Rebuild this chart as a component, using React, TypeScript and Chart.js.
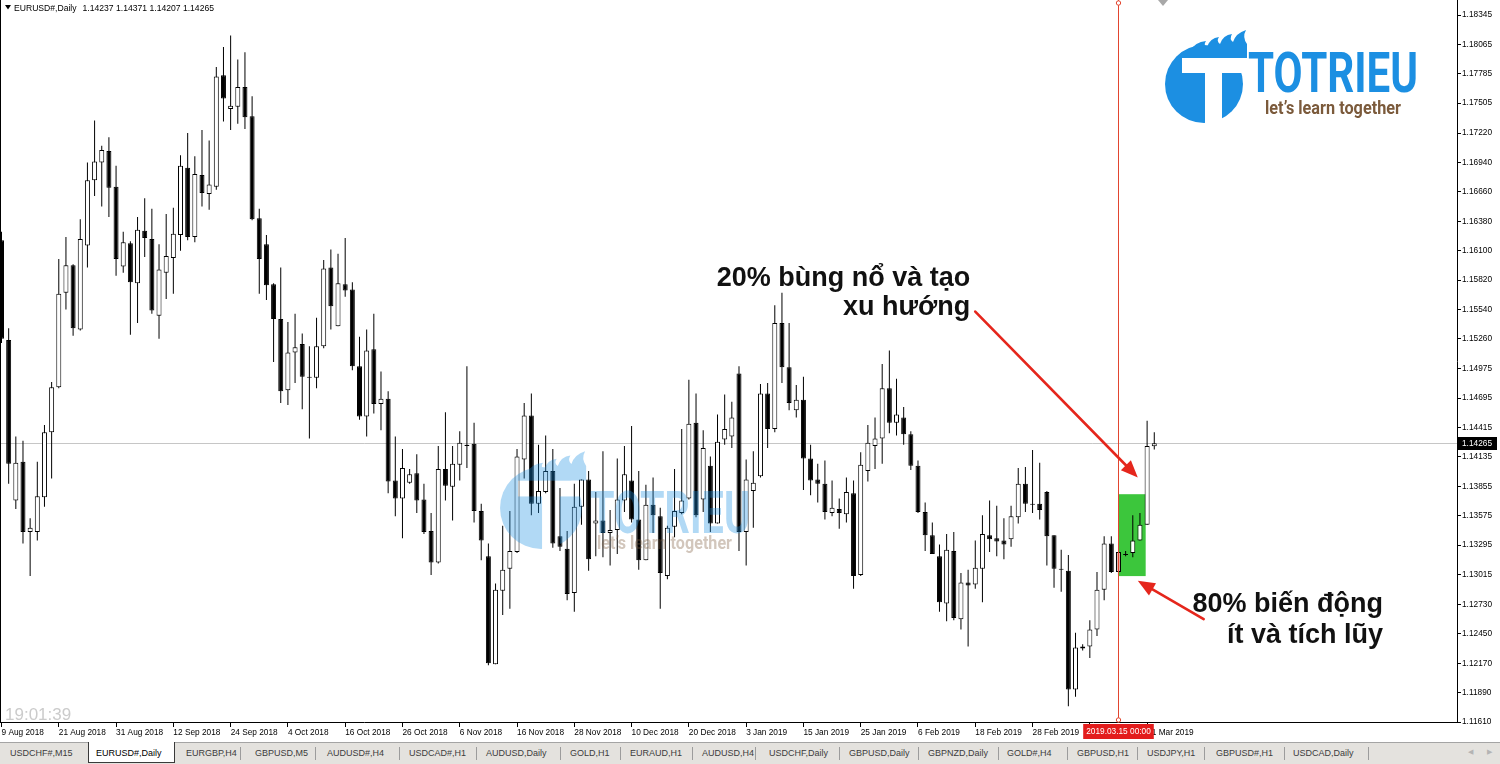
import { useEffect, useRef } from 'react';
import { Chart, registerables } from 'chart.js';

Chart.register(...registerables);

// ---------- data (EURUSD# Daily) ----------
const opens = [
  1.1620, 1.1525, 1.1372, 1.1409, 1.1342, 1.1342, 1.1375, 1.1437, 1.1480, 1.1570,
  1.1596, 1.1535, 1.1615, 1.1677, 1.1694, 1.1705, 1.1671, 1.1595, 1.1617, 1.1579,
  1.1629, 1.1621, 1.1548, 1.1589, 1.1603, 1.1625, 1.1689, 1.1623, 1.1682, 1.1664,
  1.1671, 1.1777, 1.1745, 1.1747, 1.1766, 1.1738, 1.1641, 1.1616, 1.1578, 1.1545,
  1.1477, 1.1513, 1.1521, 1.1490, 1.1489, 1.1519, 1.1594, 1.1538, 1.1578, 1.1573,
  1.1500, 1.1452, 1.1516, 1.1464, 1.1469, 1.1391, 1.1374, 1.1389, 1.1398, 1.1373,
  1.1343, 1.1313, 1.1402, 1.1385, 1.1406, 1.1425, 1.1426, 1.1362, 1.1319, 1.1216,
  1.1286, 1.1307, 1.1323, 1.1411, 1.1453, 1.1369, 1.1380, 1.1400, 1.1338, 1.1326,
  1.1284, 1.1366, 1.1392, 1.1350, 1.1353, 1.1341, 1.1344, 1.1372, 1.1391, 1.1354,
  1.1315, 1.1368, 1.1357, 1.1300, 1.1347, 1.1360, 1.1374, 1.1446, 1.1373, 1.1405,
  1.1350, 1.1430, 1.1433, 1.1493, 1.1342, 1.1381, 1.1395, 1.1474, 1.1440, 1.1541,
  1.1499, 1.1458, 1.1468, 1.1412, 1.1392, 1.1388, 1.1360, 1.1364, 1.1359, 1.1379,
  1.1301, 1.1400, 1.1424, 1.1431, 1.1479, 1.1446, 1.1451, 1.1435, 1.1405, 1.1361,
  1.1339, 1.1319, 1.1274, 1.1324, 1.1259, 1.1294, 1.1292, 1.1307, 1.1339, 1.1336,
  1.1334, 1.1335, 1.1356, 1.1388, 1.1369, 1.1369, 1.1380, 1.1339, 1.1307, 1.1305,
  1.1192, 1.1231, 1.1233, 1.1249, 1.1287, 1.1331, 1.1304, 1.1320, 1.1322, 1.1334,
  1.1349, 1.14237,
];
const highs = [
  1.1628, 1.1536, 1.1433, 1.1429, 1.1355, 1.1409, 1.1444, 1.1485, 1.1602, 1.1623,
  1.1597, 1.1640, 1.1694, 1.1734, 1.1710, 1.1718, 1.1691, 1.1628, 1.1619, 1.1642,
  1.1660, 1.1650, 1.1616, 1.1645, 1.1651, 1.1701, 1.1722, 1.1700, 1.1725, 1.1715,
  1.1785, 1.1804, 1.1815, 1.1792, 1.1799, 1.1757, 1.1650, 1.1625, 1.1579, 1.1594,
  1.1542, 1.1550, 1.1531, 1.1519, 1.1546, 1.1601, 1.1611, 1.1607, 1.1622, 1.1580,
  1.1528, 1.1535, 1.1550, 1.1495, 1.1476, 1.1433, 1.1421, 1.1402, 1.1416, 1.1388,
  1.1360, 1.1424, 1.1456, 1.1424, 1.1438, 1.1500, 1.1446, 1.1369, 1.1331, 1.1293,
  1.1348, 1.1362, 1.1421, 1.1465, 1.1474, 1.1425, 1.1434, 1.1421, 1.1384, 1.1343,
  1.1388, 1.1392, 1.1400, 1.1380, 1.1419, 1.1363, 1.1412, 1.1424, 1.1443, 1.1400,
  1.1387, 1.1394, 1.1365, 1.1348, 1.1402, 1.1440, 1.1487, 1.1474, 1.1439, 1.1414,
  1.1454, 1.1473, 1.1466, 1.1500, 1.1411, 1.1419, 1.1483, 1.1484, 1.1558, 1.1570,
  1.1541, 1.1482, 1.1490, 1.1425, 1.1407, 1.1410, 1.1391, 1.1374, 1.1394, 1.1391,
  1.1418, 1.1444, 1.1451, 1.1502, 1.1515, 1.1488, 1.1461, 1.1438, 1.1410, 1.1370,
  1.1351, 1.1330, 1.1340, 1.1342, 1.1303, 1.1306, 1.1334, 1.1358, 1.1372, 1.1367,
  1.1355, 1.1367, 1.1403, 1.1404, 1.1420, 1.1408, 1.1381, 1.1339, 1.1325, 1.1320,
  1.1246, 1.1235, 1.1258, 1.1304, 1.1338, 1.1338, 1.1323, 1.1324, 1.1358, 1.1360,
  1.1448, 1.14371,
];
const lows = [
  1.1522, 1.1388, 1.1364, 1.1331, 1.1300, 1.1334, 1.1366, 1.1393, 1.1479, 1.1554,
  1.1529, 1.1534, 1.1594, 1.1662, 1.1652, 1.1642, 1.1586, 1.1589, 1.1530, 1.1541,
  1.1604, 1.1550, 1.1526, 1.1564, 1.1569, 1.1610, 1.1620, 1.1618, 1.1652, 1.1649,
  1.1668, 1.1733, 1.1725, 1.1731, 1.1726, 1.1639, 1.1569, 1.1563, 1.1504, 1.1465,
  1.1463, 1.1484, 1.1459, 1.1431, 1.1479, 1.1517, 1.1535, 1.1538, 1.1566, 1.1496,
  1.1449, 1.1433, 1.1455, 1.1439, 1.1379, 1.1357, 1.1336, 1.1388, 1.1360, 1.1340,
  1.1301, 1.1312, 1.1372, 1.1353, 1.1391, 1.1403, 1.1351, 1.1315, 1.1215, 1.1216,
  1.1263, 1.1269, 1.1322, 1.1393, 1.1358, 1.1360, 1.1379, 1.1327, 1.1324, 1.1277,
  1.1266, 1.1349, 1.1305, 1.1319, 1.1318, 1.1310, 1.1321, 1.1361, 1.1351, 1.1306,
  1.1315, 1.1341, 1.1269, 1.1297, 1.1337, 1.1359, 1.1373, 1.1356, 1.1361, 1.1342,
  1.1350, 1.1425, 1.1422, 1.1324, 1.1310, 1.1346, 1.1394, 1.1422, 1.1437, 1.1484,
  1.1458, 1.1451, 1.1382, 1.1377, 1.1370, 1.1354, 1.1357, 1.1345, 1.1351, 1.1288,
  1.1300, 1.1390, 1.1402, 1.1407, 1.1436, 1.1434, 1.1425, 1.1401, 1.1360, 1.1324,
  1.1321, 1.1266, 1.1257, 1.1258, 1.1249, 1.1233, 1.1288, 1.1275, 1.1323, 1.1319,
  1.1316, 1.1328, 1.1350, 1.1361, 1.1360, 1.1354, 1.1310, 1.1289, 1.1285, 1.1176,
  1.1185, 1.1229, 1.1222, 1.1243, 1.1277, 1.1303, 1.1301, 1.1319, 1.1318, 1.1334,
  1.1349, 1.14207,
];
const closes = [
  1.1526, 1.1407, 1.1408, 1.1342, 1.1346, 1.1376, 1.1437, 1.1480, 1.1569, 1.1596,
  1.1536, 1.1621, 1.1677, 1.1695, 1.1706, 1.1670, 1.1602, 1.1618, 1.1580, 1.1630,
  1.1622, 1.1553, 1.1592, 1.1605, 1.1626, 1.1691, 1.1623, 1.1683, 1.1665, 1.1673,
  1.1776, 1.1755, 1.1748, 1.1766, 1.1737, 1.1640, 1.1602, 1.1577, 1.1545, 1.1476,
  1.1513, 1.1518, 1.1490, 1.1489, 1.1519, 1.1593, 1.1557, 1.1579, 1.1572, 1.1500,
  1.1452, 1.1515, 1.1464, 1.1469, 1.1390, 1.1374, 1.1403, 1.1397, 1.1372, 1.1342,
  1.1313, 1.1402, 1.1386, 1.1407, 1.1427, 1.1424, 1.1362, 1.1334, 1.1217, 1.1287,
  1.1306, 1.1324, 1.1414, 1.1453, 1.1369, 1.1381, 1.1400, 1.1331, 1.1328, 1.1283,
  1.1366, 1.1392, 1.1316, 1.1353, 1.1341, 1.1344, 1.1373, 1.1397, 1.1354, 1.1315,
  1.1368, 1.1358, 1.1303, 1.1346, 1.1362, 1.1372, 1.1445, 1.1358, 1.1422, 1.1350,
  1.1428, 1.1440, 1.1451, 1.1342, 1.1392, 1.1389, 1.1474, 1.1440, 1.1541, 1.1499,
  1.1465, 1.1468, 1.1412, 1.1391, 1.1388, 1.1361, 1.1365, 1.1360, 1.1380, 1.1300,
  1.1406, 1.1427, 1.1431, 1.1479, 1.1446, 1.1454, 1.1435, 1.1405, 1.1361, 1.1339,
  1.1321, 1.1275, 1.1325, 1.1260, 1.1294, 1.1291, 1.1308, 1.1340, 1.1335, 1.1333,
  1.1330, 1.1357, 1.1388, 1.1369, 1.1368, 1.1363, 1.1338, 1.1307, 1.1306, 1.1192,
  1.1232, 1.1233, 1.1249, 1.1287, 1.1331, 1.1304, 1.1323, 1.1320, 1.1334, 1.1349,
  1.1424, 1.14265,
];

const dateTickIndex = [0, 8, 16, 24, 32, 40, 48, 56, 64, 72, 80, 88, 96, 104, 112, 120, 128, 136, 144, 152, 160];
const dateTickLabels = [
  '9 Aug 2018', '21 Aug 2018', '31 Aug 2018', '12 Sep 2018', '24 Sep 2018', '4 Oct 2018',
  '16 Oct 2018', '26 Oct 2018', '6 Nov 2018', '16 Nov 2018', '28 Nov 2018', '10 Dec 2018',
  '20 Dec 2018', '3 Jan 2019', '15 Jan 2019', '25 Jan 2019', '6 Feb 2019', '18 Feb 2019',
  '28 Feb 2019', '11 Mar 2019', '21 Mar 2019',
];
const priceTicks = [
  1.18345, 1.18065, 1.17785, 1.17505, 1.1722, 1.1694, 1.1666, 1.1638, 1.161, 1.1582,
  1.1554, 1.1526, 1.14975, 1.14695, 1.14415, 1.14135, 1.13855, 1.13575, 1.13295,
  1.13015, 1.1273, 1.1245, 1.1217, 1.1189, 1.1161,
];

const symbolTitle = 'EURUSD#,Daily';
const lastOHLC = '1.14237 1.14371 1.14207 1.14265';
const currentPrice = 1.14265;
const crosshairIndex = 156;
const crosshairLabel = '2019.03.15 00:00';
const zoneRange = [156, 159.8];
const zonePrices = [1.13, 1.1378];
const serverTime = '19:01:39';

const noteTop = ['20% bùng nổ và tạo', 'xu hướng'];
const noteBottom = ['80% biến động', 'ít và tích lũy'];

const tabNames = [
  'USDCHF#,M15', 'EURUSD#,Daily', 'EURGBP,H4', 'GBPUSD,M5', 'AUDUSD#,H4', 'USDCAD#,H1',
  'AUDUSD,Daily', 'GOLD,H1', 'EURAUD,H1', 'AUDUSD,H4', 'USDCHF,Daily', 'GBPUSD,Daily',
  'GBPNZD,Daily', 'GOLD#,H4', 'GBPUSD,H1', 'USDJPY,H1', 'GBPUSD#,H1', 'USDCAD,Daily',
];
const tabLeft = [10, 96, 186, 255, 327, 409, 486, 570, 630, 702, 769, 849, 928, 1007, 1077, 1147, 1216, 1293];
const tabSeparators = [240, 315, 399, 476, 560, 620, 692, 755, 839, 918, 998, 1067, 1137, 1204, 1284, 1368];
const activeTab = 1;

// ---------- layout constants ----------
const W = 1500;
const H = 764;
const X_MIN = -0.21;
const X_MAX = 203.28;
const Y_MIN = 1.1161;
const Y_MAX = 1.184879;
const FONT = '"Liberation Sans", Arial, Helvetica, sans-serif';
const BLUE = '#1c8fe2';
const BROWN = '#7b5a3b';
const ARROW = '#e5261c';

function fitText(c: CanvasRenderingContext2D, text: string, x: number, baseline: number, width: number, font: string, color: string) {
  c.save();
  c.font = font;
  const w = c.measureText(text).width;
  c.translate(x, baseline);
  c.scale(width / w, 1);
  c.fillStyle = color;
  c.textBaseline = 'alphabetic';
  c.textAlign = 'left';
  c.fillText(text, 0, 0);
  c.restore();
}

function drawLogo(
  c: CanvasRenderingContext2D,
  g: { cx: number; cy: number; s: number; tx: number; tb: number; tw: number; tf: number; lx: number; lb: number; lw: number; lf: number },
) {
  c.save();
  c.translate(g.cx, g.cy);
  c.scale(g.s, g.s);
  c.fillStyle = BLUE;
  c.beginPath();
  c.arc(0, 0, 39, 0, Math.PI * 2);
  c.fill();
  // flame tongues
  c.beginPath();
  c.moveTo(-14, -33);
  c.quadraticCurveTo(-9, -42, 2, -43);
  c.quadraticCurveTo(-1, -39, 3, -37);
  c.quadraticCurveTo(6, -46, 15, -47);
  c.quadraticCurveTo(12, -43, 16, -40);
  c.quadraticCurveTo(19, -49, 28, -50);
  c.quadraticCurveTo(25, -45, 29, -42);
  c.quadraticCurveTo(32, -51, 42, -54);
  c.quadraticCurveTo(38, -47, 43, -40);
  c.lineTo(43, -26);
  c.lineTo(-6, -26);
  c.closePath();
  c.fill();
  // white T cut out
  c.globalCompositeOperation = 'destination-out';
  c.fillRect(-22, -26, 66, 15);
  c.fillRect(1, -12, 17, 53);
  c.restore();
  fitText(c, 'TOTRIEU', g.tx, g.tb, g.tw, `bold ${g.tf}px Roboto, "Liberation Sans", sans-serif`, BLUE);
  fitText(c, 'let’s learn together', g.lx, g.lb, g.lw, `bold ${g.lf}px Roboto, "Liberation Sans", sans-serif`, BROWN);
}

function makeLayer(w: number, h: number, dpr: number, draw: (c: CanvasRenderingContext2D) => void) {
  const off = document.createElement('canvas');
  off.width = Math.round(w * dpr);
  off.height = Math.round(h * dpr);
  const c = off.getContext('2d') as CanvasRenderingContext2D;
  c.scale(dpr, dpr);
  draw(c);
  return off;
}

function drawArrow(ctx: CanvasRenderingContext2D, x1: number, y1: number, x2: number, y2: number) {
  const ang = Math.atan2(y2 - y1, x2 - x1);
  const hl = 17;
  const hw = 7;
  const bx = x2 - Math.cos(ang) * hl;
  const by = y2 - Math.sin(ang) * hl;
  ctx.save();
  ctx.strokeStyle = ARROW;
  ctx.fillStyle = ARROW;
  ctx.lineWidth = 2.6;
  ctx.lineCap = 'round';
  ctx.beginPath();
  ctx.moveTo(x1, y1);
  ctx.lineTo(bx, by);
  ctx.stroke();
  ctx.beginPath();
  ctx.moveTo(x2, y2);
  ctx.lineTo(bx + Math.sin(ang) * hw, by - Math.cos(ang) * hw);
  ctx.lineTo(bx - Math.sin(ang) * hw, by + Math.cos(ang) * hw);
  ctx.closePath();
  ctx.fill();
  ctx.restore();
}

const overlayPlugin = {
  id: 'mt4Overlay',
  beforeDatasetsDraw(chart: any) {
    const { ctx, chartArea: a } = chart;
    const x = chart.scales.x;
    const y = chart.scales.y;
    ctx.save();
    const yp = Math.round(y.getPixelForValue(currentPrice)) + 0.5;
    ctx.strokeStyle = '#c6c6c6';
    ctx.lineWidth = 1;
    ctx.beginPath();
    ctx.moveTo(a.left, yp);
    ctx.lineTo(a.right, yp);
    ctx.stroke();
    const zx1 = x.getPixelForValue(zoneRange[0]);
    const zx2 = x.getPixelForValue(zoneRange[1]);
    const zy1 = y.getPixelForValue(zonePrices[1]);
    const zy2 = y.getPixelForValue(zonePrices[0]);
    ctx.fillStyle = '#3cc63c';
    ctx.fillRect(zx1, zy1, zx2 - zx1, zy2 - zy1);
    ctx.restore();
  },
  afterDatasetsDraw(chart: any) {
    const { ctx, chartArea: a } = chart;
    const x = chart.scales.x;
    const y = chart.scales.y;
    const dpr = chart.currentDevicePixelRatio || 1;
    // watermark
    const wm = makeLayer(chart.width, chart.height, dpr, (c) =>
      drawLogo(c, { cx: 541, cy: 508, s: 1.05, tx: 590, tb: 533, tw: 160, tf: 60, lx: 597, lb: 549, lw: 135, lf: 19 }),
    );
    ctx.save();
    ctx.globalAlpha = 0.34;
    ctx.drawImage(wm, 0, 0, chart.width, chart.height);
    ctx.restore();
    // crosshair vertical line
    const cx = Math.round(x.getPixelForValue(crosshairIndex)) + 0.5;
    ctx.save();
    ctx.strokeStyle = '#e2452f';
    ctx.lineWidth = 1;
    ctx.beginPath();
    ctx.moveTo(cx, a.top);
    ctx.lineTo(cx, a.bottom);
    ctx.stroke();
    ctx.fillStyle = '#fff';
    for (const yy of [a.top + 3, a.bottom - 2]) {
      ctx.beginPath();
      ctx.arc(cx, yy, 2.2, 0, Math.PI * 2);
      ctx.fill();
      ctx.stroke();
    }
    ctx.restore();
    // arrows
    drawArrow(ctx, x.getPixelForValue(136.0), y.getPixelForValue(1.1552), x.getPixelForValue(158.7), y.getPixelForValue(1.1394));
    drawArrow(ctx, x.getPixelForValue(167.9), y.getPixelForValue(1.1259), x.getPixelForValue(158.7), y.getPixelForValue(1.12955));
  },
  afterDraw(chart: any) {
    const { ctx, chartArea: a } = chart;
    const x = chart.scales.x;
    const y = chart.scales.y;
    const dpr = chart.currentDevicePixelRatio || 1;
    // main logo
    const logo = makeLayer(chart.width, chart.height, dpr, (c) =>
      drawLogo(c, { cx: 1204, cy: 84, s: 1, tx: 1248, tb: 92, tw: 170, tf: 56, lx: 1265, lb: 114, lw: 136, lf: 19 }),
    );
    ctx.drawImage(logo, 0, 0, chart.width, chart.height);

    ctx.save();
    // notes
    ctx.fillStyle = '#111';
    ctx.font = `bold 27px ${FONT}`;
    ctx.textAlign = 'right';
    ctx.textBaseline = 'alphabetic';
    const n1x = x.getPixelForValue(135.3);
    ctx.fillText(noteTop[0], n1x, y.getPixelForValue(1.15763));
    ctx.fillText(noteTop[1], n1x, y.getPixelForValue(1.15487));
    const n2x = x.getPixelForValue(192.95);
    ctx.fillText(noteBottom[0], n2x, y.getPixelForValue(1.12658));
    ctx.fillText(noteBottom[1], n2x, y.getPixelForValue(1.12362));

    // title
    ctx.textAlign = 'left';
    ctx.fillStyle = '#000';
    ctx.beginPath();
    ctx.moveTo(5, 5);
    ctx.lineTo(11, 5);
    ctx.lineTo(8, 9.5);
    ctx.closePath();
    ctx.fill();
    ctx.font = `8.6px ${FONT}`;
    ctx.fillText(symbolTitle, 14, 11);
    const tw = ctx.measureText(symbolTitle).width;
    ctx.fillText(lastOHLC, 14 + tw + 6, 11);

    // server time
    ctx.fillStyle = '#cbcbcb';
    ctx.font = `17px ${FONT}`;
    ctx.fillText(serverTime, 5, 720);

    // left frame
    ctx.strokeStyle = '#000';
    ctx.lineWidth = 1;
    ctx.beginPath();
    ctx.moveTo(a.left + 0.5, a.top);
    ctx.lineTo(a.left + 0.5, a.bottom);
    ctx.stroke();

    // chart shift marker
    ctx.fillStyle = '#a8a8a8';
    ctx.beginPath();
    ctx.moveTo(1158, 0);
    ctx.lineTo(1168, 0);
    ctx.lineTo(1163, 6);
    ctx.closePath();
    ctx.fill();

    // current price box
    const yp = Math.round(y.getPixelForValue(currentPrice));
    ctx.fillStyle = '#000';
    ctx.fillRect(a.right + 1, yp - 6, 39, 13);
    ctx.fillStyle = '#fff';
    ctx.font = `8.3px ${FONT}`;
    ctx.textBaseline = 'middle';
    ctx.fillText(currentPrice.toFixed(5), a.right + 5, yp + 0.5);

    // crosshair time label
    const cx = Math.round(x.getPixelForValue(crosshairIndex)) + 0.5;
    const lw = ctx.measureText(crosshairLabel).width + 6;
    ctx.fillStyle = '#e31c1c';
    ctx.fillRect(cx - lw / 2, a.bottom + 2, lw, 15);
    ctx.fillStyle = '#fff';
    ctx.textAlign = 'center';
    ctx.fillText(crosshairLabel, cx, a.bottom + 10);
    ctx.restore();
  },
};

export default function App() {
  const ref = useRef<HTMLCanvasElement>(null);

  useEffect(() => {
    const canvas = ref.current;
    if (!canvas) return;
    const bodyColors = opens.map((o, i) =>
      i === crosshairIndex ? '#e8b6ae' : closes[i] >= o ? '#ffffff' : '#000000',
    );
    const chart = new Chart(canvas, {
      type: 'bar',
      data: {
        datasets: [
          {
            label: 'wick',
            data: highs.map((h, i) => ({ x: i, y: [lows[i], h] })) as any,
            backgroundColor: '#000',
            borderWidth: 0,
            barThickness: 1,
            grouped: false,
            minBarLength: 1,
            inflateAmount: 0,
            order: 2,
          } as any,
          {
            label: 'body',
            data: opens.map((o, i) => ({ x: i, y: [o, closes[i]] })) as any,
            backgroundColor: bodyColors,
            borderColor: '#000',
            borderWidth: 1,
            borderSkipped: false,
            barThickness: 5,
            grouped: false,
            minBarLength: 1,
            inflateAmount: 0,
            order: 1,
          } as any,
        ],
      },
      options: {
        animation: false,
        responsive: false,
        maintainAspectRatio: false,
        events: [],
        layout: { padding: 0, autoPadding: false } as any,
        plugins: { legend: { display: false }, tooltip: { enabled: false }, title: { display: false } },
        scales: {
          x: {
            type: 'linear',
            position: 'bottom',
            min: X_MIN,
            max: X_MAX,
            offset: false,
            afterBuildTicks: (s: any) => {
              s.ticks = dateTickIndex.map((v) => ({ value: v }));
            },
            afterFit: (s: any) => {
              s.height = 42;
              s.paddingLeft = 0;
              s.paddingRight = 0;
            },
            ticks: {
              autoSkip: false,
              maxRotation: 0,
              minRotation: 0,
              align: 'start',
              padding: 1,
              color: '#000',
              font: { family: FONT, size: 8.3 },
              callback: (v: any) => {
                const k = dateTickIndex.indexOf(Number(v));
                return k >= 0 ? dateTickLabels[k] : '';
              },
            },
            grid: { drawOnChartArea: false, drawTicks: true, tickLength: 5, color: '#000', offset: false },
            border: { display: true, color: '#000' },
          } as any,
          y: {
            type: 'linear',
            position: 'right',
            min: Y_MIN,
            max: Y_MAX,
            afterBuildTicks: (s: any) => {
              s.ticks = priceTicks.map((v) => ({ value: v }));
            },
            afterFit: (s: any) => {
              s.width = 43;
              s.paddingTop = 0;
              s.paddingBottom = 0;
            },
            ticks: {
              autoSkip: false,
              padding: 1,
              color: '#000',
              font: { family: FONT, size: 8.3 },
              callback: (v: any) => Number(v).toFixed(5),
            },
            grid: { drawOnChartArea: false, drawTicks: true, tickLength: 4, color: '#000' },
            border: { display: true, color: '#000' },
          } as any,
        },
      },
      plugins: [overlayPlugin as any],
    });
    return () => chart.destroy();
  }, []);

  return (
    <div style={{ position: 'fixed', left: 0, top: 0, width: W, height: H, background: '#fff', overflow: 'hidden' }}>
      <canvas ref={ref} width={W} height={H} style={{ position: 'absolute', left: 0, top: 0, width: W, height: H }} />
      <div
        style={{
          position: 'absolute',
          left: 0,
          top: 742,
          width: W,
          height: 22,
          background: '#e4e2de',
          borderTop: '1px solid #a4a4a4',
          boxSizing: 'border-box',
          fontFamily: FONT,
          fontSize: 9,
        }}
      >
        <div
          style={{
            position: 'absolute',
            left: 88,
            top: -1,
            width: 87,
            height: 21,
            background: '#fff',
            borderLeft: '1px solid #3a3a3a',
            borderRight: '1px solid #3a3a3a',
            borderBottom: '1px solid #3a3a3a',
            boxSizing: 'border-box',
          }}
        />
        {tabSeparators.map((sx, i) => (
          <div key={'s' + i} style={{ position: 'absolute', left: sx, top: 4, width: 1, height: 13, background: '#9c9c9c' }} />
        ))}
        {tabNames.map((t, i) => (
          <span
            key={t + i}
            style={{
              position: 'absolute',
              left: tabLeft[i],
              top: 5,
              lineHeight: '11px',
              whiteSpace: 'nowrap',
              color: i === activeTab ? '#000' : '#3c3c3c',
            }}
          >
            {t}
          </span>
        ))}
        <span style={{ position: 'absolute', left: 1468, top: 5, fontSize: 7, color: '#b4b4b4', fontFamily: 'DejaVu Sans' }}>◀</span>
        <span style={{ position: 'absolute', left: 1487, top: 5, fontSize: 7, color: '#b4b4b4', fontFamily: 'DejaVu Sans' }}>▶</span>
      </div>
    </div>
  );
}
